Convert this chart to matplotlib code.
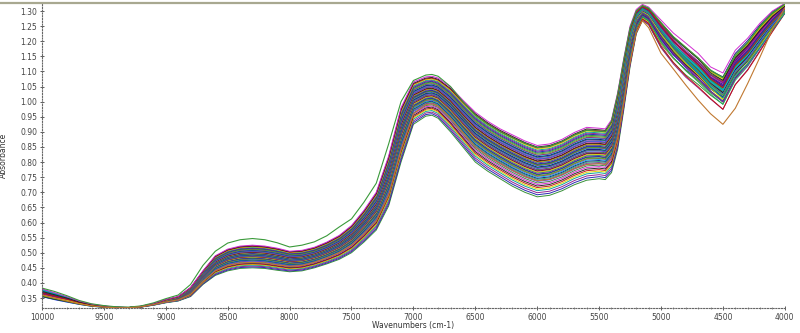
import matplotlib
matplotlib.use("Agg")
import matplotlib.pyplot as plt
from matplotlib.ticker import MultipleLocator, FixedLocator
from matplotlib.lines import Line2D
import numpy as np

# Wavenumber grid (cm-1) at which the envelope of the spectra was read
wavenumbers = [10000, 9900, 9800, 9700, 9600, 9500, 9400, 9300, 9200, 9100,
               9000, 8900, 8800, 8700, 8600, 8500, 8400, 8300, 8200, 8100,
               8000, 7900, 7800, 7700, 7600, 7500, 7400, 7300, 7200, 7100,
               7000, 6900, 6850, 6800, 6700, 6600, 6500, 6400, 6300, 6200,
               6100, 6000, 5900, 5800, 5700, 5600, 5500, 5450, 5400, 5350,
               5300, 5250, 5200, 5150, 5100, 5000, 4900, 4800, 4700, 4600,
               4500, 4400, 4300, 4200, 4100, 4000]

# Lower edge of the main bundle of spectra
low_spectrum = [0.353, 0.343, 0.335, 0.328, 0.322, 0.319, 0.317, 0.317, 0.320, 0.326,
                0.334, 0.340, 0.355, 0.395, 0.425, 0.440, 0.448, 0.450, 0.448, 0.442,
                0.437, 0.440, 0.450, 0.463, 0.478, 0.500, 0.535, 0.575, 0.655, 0.800,
                0.925, 0.952, 0.955, 0.945, 0.900, 0.850, 0.800, 0.770, 0.745, 0.720,
                0.700, 0.685, 0.690, 0.705, 0.725, 0.740, 0.745, 0.742, 0.765, 0.840,
                0.970, 1.110, 1.220, 1.265, 1.250, 1.170, 1.115, 1.070, 1.035, 0.998,
                0.962, 1.045, 1.095, 1.160, 1.227, 1.290]

# Upper edge of the main bundle of spectra
high_spectrum = [0.380, 0.368, 0.355, 0.340, 0.330, 0.324, 0.320, 0.319, 0.323, 0.332,
                 0.345, 0.355, 0.385, 0.440, 0.490, 0.512, 0.522, 0.525, 0.522, 0.515,
                 0.505, 0.508, 0.518, 0.535, 0.557, 0.590, 0.640, 0.700, 0.820, 0.980,
                 1.065, 1.082, 1.084, 1.078, 1.048, 1.005, 0.965, 0.935, 0.910, 0.890,
                 0.870, 0.855, 0.860, 0.875, 0.898, 0.915, 0.912, 0.910, 0.940, 1.030,
                 1.145, 1.250, 1.305, 1.322, 1.313, 1.270, 1.227, 1.194, 1.160, 1.115,
                 1.095, 1.170, 1.210, 1.260, 1.300, 1.325]

# Green outlier (highest curve between 8800 and 7000 cm-1)
green_outlier = [0.383, 0.372, 0.358, 0.342, 0.331, 0.325, 0.321, 0.320, 0.324, 0.334,
                 0.348, 0.360, 0.395, 0.458, 0.505, 0.532, 0.543, 0.547, 0.543, 0.533,
                 0.519, 0.525, 0.536, 0.556, 0.585, 0.612, 0.667, 0.730, 0.860, 1.000,
                 1.070, 1.088, 1.090, 1.084, 1.050, 1.000, 0.955, 0.925, 0.900, 0.880,
                 0.862, 0.848, 0.852, 0.868, 0.890, 0.905, 0.902, 0.900, 0.935, 1.025,
                 1.140, 1.245, 1.300, 1.318, 1.310, 1.262, 1.215, 1.180, 1.145, 1.105,
                 1.080, 1.150, 1.195, 1.250, 1.295, 1.322]

# Orange outlier (lowest curve between 5000 and 4000 cm-1)
orange_outlier = [0.360, 0.350, 0.340, 0.331, 0.324, 0.320, 0.318, 0.318, 0.321, 0.328,
                  0.337, 0.344, 0.362, 0.405, 0.440, 0.458, 0.466, 0.468, 0.466, 0.460,
                  0.455, 0.458, 0.468, 0.483, 0.500, 0.525, 0.562, 0.605, 0.690, 0.840,
                  0.960, 0.990, 0.993, 0.985, 0.945, 0.897, 0.850, 0.820, 0.795, 0.772,
                  0.752, 0.738, 0.743, 0.758, 0.778, 0.792, 0.795, 0.792, 0.812, 0.880,
                  1.000, 1.130, 1.230, 1.268, 1.245, 1.160, 1.108, 1.055, 1.005, 0.960,
                  0.925, 0.978, 1.060, 1.148, 1.240, 1.310]

# Position of each spectrum inside the bundle (0 = low edge, 1 = high edge),
# read separately for the short-wave end, the middle and the long-wave end
pos_short_wave = [0.20, 0.45, 0.70, 0.10, 0.55, 0.35, 0.85, 0.25, 0.60, 0.05,
                  0.40, 0.75, 0.30, 0.50, 0.90, 0.15, 0.65, 0.42, 0.58, 0.22,
                  0.80, 0.38, 0.48, 0.68, 0.12, 0.52, 0.33, 0.95, 0.44, 0.62,
                  0.28, 0.72, 0.18, 0.56, 0.46, 0.82, 0.36, 0.64, 0.08, 0.54,
                  0.41, 0.76, 0.26, 0.60, 0.49, 0.88, 0.32, 0.66, 0.14, 0.57,
                  0.43, 0.78, 0.24, 0.51, 0.70, 1.00]
pos_middle = [0.00, 0.04, 0.08, 0.12, 0.15, 0.18, 0.21, 0.24, 0.27, 0.30,
              0.32, 0.34, 0.36, 0.38, 0.40, 0.41, 0.43, 0.44, 0.46, 0.47,
              0.48, 0.50, 0.51, 0.52, 0.53, 0.55, 0.56, 0.57, 0.58, 0.60,
              0.61, 0.62, 0.63, 0.64, 0.66, 0.67, 0.68, 0.69, 0.70, 0.72,
              0.73, 0.74, 0.76, 0.77, 0.78, 0.80, 0.81, 0.83, 0.85, 0.87,
              0.89, 0.91, 0.93, 0.95, 0.97, 1.00]
pos_long_wave = [0.35, 0.62, 0.10, 0.78, 0.44, 0.05, 0.90, 0.56, 0.28, 0.70,
                 0.47, 0.15, 0.83, 0.60, 0.38, 0.95, 0.52, 0.22, 0.66, 0.74,
                 0.41, 0.58, 0.31, 0.87, 0.49, 0.68, 0.12, 0.55, 0.79, 0.36,
                 0.63, 0.45, 0.92, 0.26, 0.71, 0.53, 0.18, 0.84, 0.40, 0.65,
                 0.58, 0.33, 0.76, 0.50, 0.97, 0.43, 0.61, 0.24, 0.88, 0.57,
                 0.69, 0.08, 0.81, 0.46, 0.73, 1.00]

colors = ["#2e8b2e", "#2020b0", "#8b1a8b", "#009b9b", "#d8d800", "#c01010",
          "#202020", "#d020d0", "#3c7a3c", "#4a4aff", "#7a2a9a", "#20b060",
          "#101080", "#00b0e0", "#a02070", "#60a020"]

x_ticks = [10000, 9500, 9000, 8500, 8000, 7500, 7000, 6500, 6000, 5500, 5000, 4500, 4000]
y_ticks = [0.35, 0.40, 0.45, 0.50, 0.55, 0.60, 0.65, 0.70, 0.75, 0.80, 0.85, 0.90,
           0.95, 1.00, 1.05, 1.10, 1.15, 1.20, 1.25, 1.30]

fig = plt.figure(figsize=(8.0, 3.33), dpi=100)
ax = fig.add_axes([0.0525, 0.075, 0.9285, 0.916])

wn = np.array(wavenumbers)
lo = np.array(low_spectrum)
hi = np.array(high_spectrum)
# region anchors (cm-1) where each set of positions applies
region_wn = [4000, 5400, 8800, 10000]
for i, (pa, pb, pc) in enumerate(zip(pos_short_wave, pos_middle, pos_long_wave)):
    p = np.interp(wn, region_wn, [pc, pb, pb, pa])
    ax.plot(wn, lo + p * (hi - lo), color=colors[i % len(colors)], lw=0.7, alpha=0.95)
ax.plot(wn, green_outlier, color="#3a9a3a", lw=0.8)
ax.plot(wn, orange_outlier, color="#c07830", lw=0.8)

ax.set_xlim(10000, 4000)
ax.set_ylim(0.317, 1.3265)

ax.xaxis.set_major_locator(FixedLocator(x_ticks))
ax.xaxis.set_minor_locator(MultipleLocator(100))
ax.yaxis.set_major_locator(FixedLocator(y_ticks))
ax.set_xticklabels([str(t) for t in x_ticks])
ax.set_yticklabels([f"{t:.2f}" for t in y_ticks])

for s in ["top", "right"]:
    ax.spines[s].set_visible(False)
for s in ["left", "bottom"]:
    ax.spines[s].set_linestyle((0, (1, 1.5)))
    ax.spines[s].set_color("#666666")
    ax.spines[s].set_linewidth(0.8)

ax.tick_params(axis="both", which="major", labelsize=5.5, colors="#444444",
               length=3, width=0.6, direction="inout", pad=2)
ax.tick_params(axis="both", which="minor", length=2, width=0.5, color="#666666",
               direction="inout")

ax.set_xlabel("Wavenumbers (cm-1)", fontsize=5.5, color="#333333")
ax.set_ylabel("Absorbance", fontsize=5.5, color="#333333")
ax.xaxis.set_label_coords(0.5, -0.042)
ax.yaxis.set_label_coords(-0.046, 0.5)

# frame line across the top of the figure
fig.add_artist(Line2D([0, 1], [0.991, 0.991], transform=fig.transFigure,
                      color="#a8a890", lw=1.6))

fig.savefig("out.png", dpi=100, facecolor="white")
